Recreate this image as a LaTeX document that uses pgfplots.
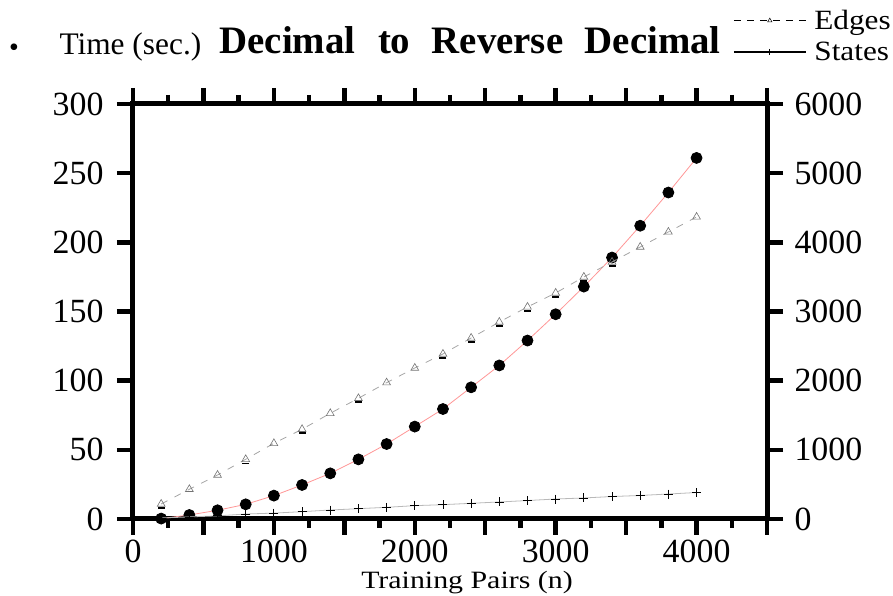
\documentclass[border=0pt]{standalone}
\usepackage{fontspec}
\setmainfont{Liberation Serif}
\newfontfamily\widefont[FakeStretch=1.12]{Liberation Serif}
\newfontfamily\labelfont[FakeStretch=1.2]{Liberation Serif}
\usepackage{pgfplots}
\pgfplotsset{compat=1.18}
\definecolor{timeline}{RGB}{255,150,150}
\definecolor{edgeline}{RGB}{165,165,165}
\definecolor{stateline}{RGB}{185,185,185}
\begin{document}
\begin{tikzpicture}[x=1bp,y=1bp]
\path[use as bounding box] (-133,-77) rectangle (760,519);
\pgfplotsset{
  common/.style={
    at={(0,0)}, anchor=south west, scale only axis,
    width=634bp, height=415bp,
    xmin=0, xmax=4500,
    tick align=outside,
    major tick length=16bp, minor tick length=9bp,
    every tick/.style={black, line width=4.5bp},
    axis line style={line width=5bp},
    ticklabel style={font=\fontsize{34}{34}\selectfont},
    /pgf/number format/assume math mode=true,
    /pgf/number format/1000 sep={},
    scaled ticks=false,
  }
}
\begin{axis}[common,
  ymin=0, ymax=300,
  xtick={0,500,...,4500}, xticklabels={0,,1000,,2000,,3000,,4000,},
  minor x tick num=1,
  xtick pos=both, xticklabel pos=lower,
  ytick={0,50,...,300}, ytick pos=left,
  xticklabel style={yshift=-1bp},
  yticklabel style={xshift=-10bp},
]
\addplot[color=timeline, line width=0.8bp, mark=*, mark size=5.5bp,
  mark options={solid, fill=black, draw=black}] coordinates {
(200,0.3) (400,2.9) (600,6.3) (800,10.6) (1000,16.9) (1200,24.6) (1400,33)
(1600,43.1) (1800,54.2) (2000,66.8) (2200,79.5) (2400,95.2) (2600,111)
(2800,129) (3000,148) (3200,168) (3400,189) (3600,212) (3800,236) (4000,261)
};
\end{axis}
\begin{axis}[common,
  ymin=0, ymax=6000,
  hide x axis,
  ytick={0,1000,...,6000}, ytick pos=right, yticklabel pos=right,
  yticklabel style={xshift=8bp},
  legend style={draw=none, fill=none, at={(1,1)}, anchor=north west,
    xshift=-34bp, yshift=96bp, font=\widefont\fontsize{28}{28}\selectfont,
    row sep=7bp, column sep=6bp, inner sep=0pt, cells={anchor=west}},
  legend image code/.code={\draw[mark repeat=2,mark phase=2,#1]
    plot coordinates {(0bp,0bp) (36bp,0bp) (72bp,0bp)};},
]
\addplot[forget plot, color=edgeline, line width=0.8bp, dash pattern=on 7bp off 8bp,
  mark=triangle, mark size=4.5bp, mark options={solid, draw=black!55, line width=0.6bp}] coordinates {
(200,217) (400,430) (600,636) (800,863) (1000,1094) (1200,1297) (1400,1528)
(1600,1745) (1800,1971) (2000,2183) (2200,2386) (2400,2617) (2600,2848)
(2800,3066) (3000,3268) (3200,3499) (3400,3716) (3600,3933) (3800,4150) (4000,4367)
};
\addplot[forget plot, only marks, mark=-, mark size=3.5bp,
  mark options={black, line width=1.6bp, yshift=-4bp}] coordinates {
(200,217) (800,863) (1200,1297) (1600,1745) (2200,2386) (2400,2617) (2600,2848)
(2800,3066) (3000,3268) (3200,3499) (3400,3716)
};
\addplot[forget plot, color=stateline, line width=0.8bp,
  mark=+, mark size=4.5bp, mark options={solid, draw=black, line width=0.8bp}] coordinates {
(200,15) (400,30) (600,45) (800,72) (1000,85) (1200,106) (1400,130)
(1600,149) (1800,169) (2000,193) (2200,207) (2400,227) (2600,246)
(2800,267) (3000,289) (3200,304) (3400,325) (3600,340) (3800,361) (4000,383)
};
\addlegendimage{black, line width=0.8bp, dash pattern=on 7bp off 6bp, mark=triangle, mark size=2.5bp, mark options={solid, black, line width=0.5bp}}
\addlegendentry{Edges}
\addlegendimage{black, line width=1.2bp, mark=|, mark size=3bp, mark options={solid, black, line width=0.8bp}}
\addlegendentry{States}
\end{axis}
\node[anchor=base west, font=\fontsize{31.5}{31.5}\selectfont] at (-77,464) {Time (sec.)};
\node[anchor=center, font=\fontsize{28}{28}\selectfont] at (-119,469) {\textbullet};
\node[anchor=base west, font=\bfseries\fontsize{39}{39}\selectfont] at (83,465)
  {Decimal\hspace{0.58em}to\hspace{0.55em}Reverse\hspace{0.55em}Decimal};
\node[anchor=base, font=\labelfont\fontsize{25}{25}\selectfont] at (334,-70) {Training Pairs (n)};
\end{tikzpicture}
\end{document}
